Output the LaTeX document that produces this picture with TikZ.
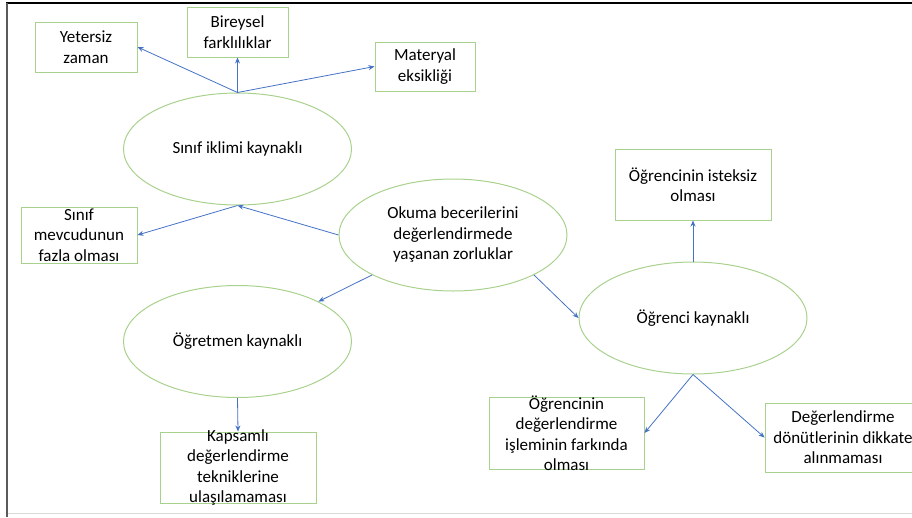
\documentclass[tikz,border=0pt]{standalone}
\usepackage{fontspec}
\setmainfont{Carlito}
\usetikzlibrary{arrows.meta,shapes.geometric}
\definecolor{boxgreen}{RGB}{169,209,142}
\definecolor{linkblue}{RGB}{68,114,196}
\definecolor{framegray}{RGB}{90,90,90}
\begin{document}
\begin{tikzpicture}[x=1pt,y=-1pt,
  txt/.style={align=center,inner sep=0pt,font=\fontsize{17}{20.5}\selectfont},
  box/.style={draw=boxgreen,line width=1pt,rectangle,inner sep=0pt},
  oval/.style={draw=boxgreen,line width=1pt,ellipse,inner sep=0pt,
    minimum width=228,minimum height=112},
  link/.style={draw=linkblue,line width=0.8pt,-{Stealth[length=6pt,width=5pt]}}]
\useasboundingbox (0,0) rectangle (912,517);
% page frame
\draw[black,line width=1.2pt] (6,3) -- (912,3);
\draw[framegray,line width=1.5pt] (7,3) -- (7,517);
\draw[black!15,line width=1pt] (8,513) -- (912,513);

% central topic
\node[oval] (okuma) at (453,235) {};
\node[txt] at (okuma) {Okuma becerilerini\\değerlendirmede\\yaşanan zorluklar};

% three sources
\node[oval] (sinif) at (237.5,149) {};
\node[txt] at (sinif) {Sınıf iklimi kaynaklı};
\node[oval] (ogretmen) at (237.5,341.5) {};
\node[txt] at (ogretmen) {Öğretmen kaynaklı};
\node[oval] (ogrenci) at (693,318) {};
\node[txt] at (ogrenci) {Öğrenci kaynaklı};

% classroom climate causes
\node[box,minimum width=102,minimum height=50] (yetersiz) at (86,47) {};
\node[txt] at (yetersiz) {Yetersiz\\zaman};
\node[box,minimum width=101,minimum height=50] (bireysel) at (237.5,32) {};
\node[txt] at (bireysel) {Bireysel\\farklılıklar};
\node[box,minimum width=100,minimum height=49] (materyal) at (425,66.5) {};
\node[txt] at (materyal) {Materyal\\eksikliği};
\node[box,minimum width=116,minimum height=56] (mevcut) at (79,235) {};
\node[txt] at (mevcut) {Sınıf\\mevcudunun\\fazla olması};

% teacher causes
\node[box,minimum width=156,minimum height=71] (kapsam) at (238,467.5) {};
\node[txt] at (kapsam) {Kapsamlı\\değerlendirme\\tekniklerine\\ulaşılamaması};

% student causes
\node[box,minimum width=156,minimum height=71] (isteksiz) at (693,184.5) {};
\node[txt] at (isteksiz) {Öğrencinin isteksiz\\olması};
\node[box,minimum width=155,minimum height=72] (farkinda) at (566.5,433) {};
\node[txt] at (farkinda) {Öğrencinin\\değerlendirme\\işleminin farkında\\olması};
\node[box,minimum width=156,minimum height=69] (donut) at (843,437.5) {};
\node[txt] at (donut) {Değerlendirme\\dönütlerinin dikkate\\alınmaması};

% connectors
\draw[link] (sinif.north) -- (yetersiz.east);
\draw[link] (sinif.north) -- (bireysel.south);
\draw[link] (sinif.north) -- (materyal.west);
\draw[link] (okuma.west) -- (sinif.south);
\draw[link] (sinif.south) -- (mevcut.east);
\draw[link] (okuma.south west) -- (ogretmen.north east);
\draw[link] (okuma.south east) -- (ogrenci.west);
\draw[link] (ogretmen.south) -- (kapsam.north);
\draw[link] (ogrenci.north) -- (isteksiz.south);
\draw[link] (ogrenci.south) -- (farkinda.east);
\draw[link] (ogrenci.south) -- (donut.west);
\end{tikzpicture}
\end{document}
